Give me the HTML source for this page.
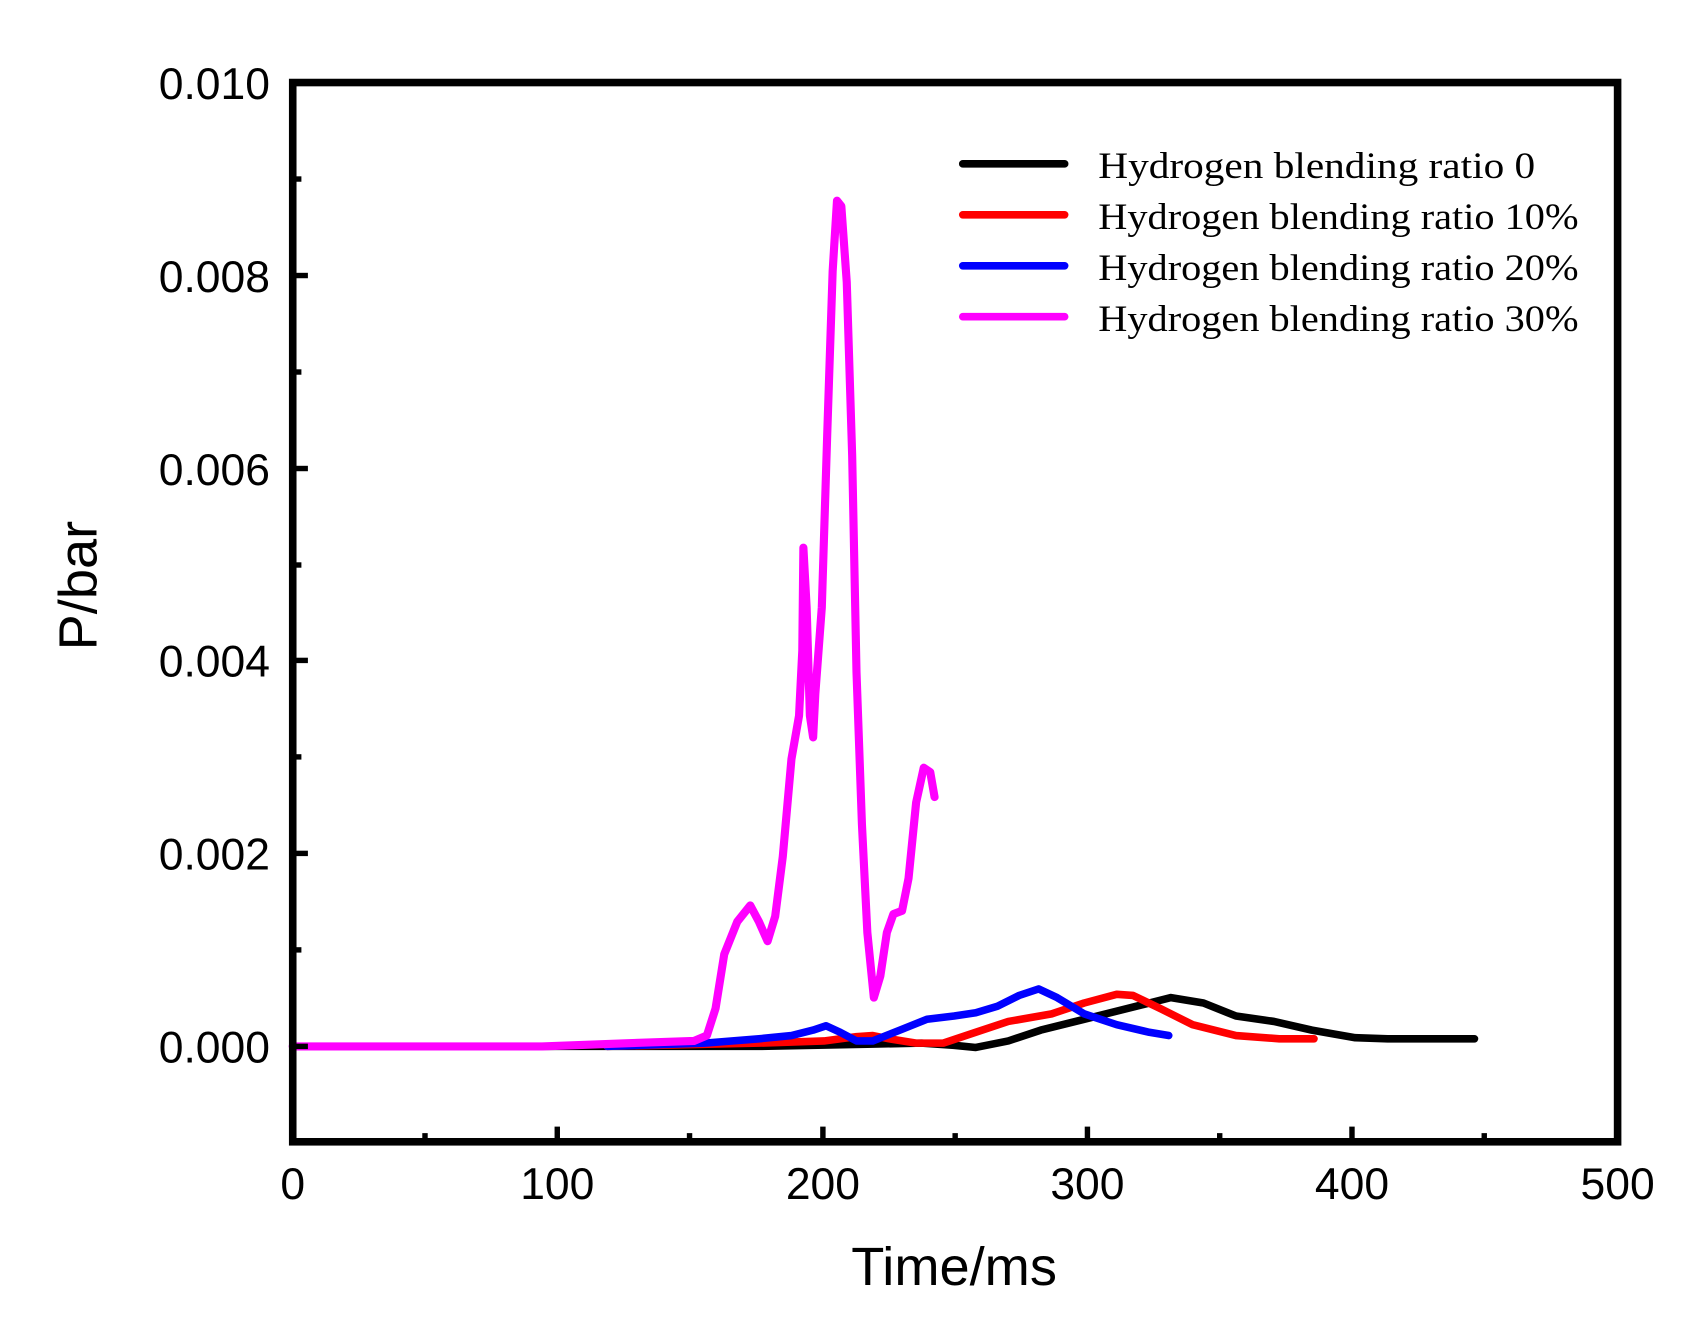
<!DOCTYPE html>
<html><head><style>html,body{margin:0;padding:0;background:#fff}svg{display:block}</style></head>
<body>
<svg width="1700" height="1336" viewBox="0 0 1568 1232" xmlns="http://www.w3.org/2000/svg" font-family="Liberation Sans, Arial, sans-serif">
<rect width="1568" height="1232" fill="#fff"/>
<g fill="none" stroke-linejoin="round" stroke-linecap="round" stroke-width="7">
<polyline stroke="#000" points="270,965 700,965 800,963 850,962 880,964 900,966 930,960 960,950 1000,940 1040,930 1060,925 1080,920 1110,925 1140,937 1175,942 1210,950 1250,957 1280,958 1360,958"/>
<polyline stroke="#ff0000" points="560,965 700,962 760,960 790,956 805,955 820,958 845,962 870,962 900,952 930,942 970,935 1000,925 1030,917 1045,918 1070,930 1100,945 1140,955 1180,958 1212,958"/>
<polyline stroke="#0000ff" points="560,965 650,962 700,958 730,955 750,950 762,946 775,952 790,960 805,960 830,950 855,940 880,937 900,934 920,928 940,918 958,912 975,920 1000,935 1030,945 1060,952 1078,955"/>
<polyline stroke="#ff00ff" stroke-width="7.5" points="270,965 500,965 580,962 640,960 652,955 660,930 668,880 680,850 692,835 700,850 708,868 715,845 722,790 730,700 737,660 740,600 741,505 744,560 747,660 750,680 752,640 758,560 763,400 768,250 772,185 776,190 781,260 786,420 790,620 795,760 800,860 806,920 812,900 818,860 824,843 832,840 838,810 845,740 852,708 858,712 862,735"/>
</g>
<rect x="270" y="76" width="1222" height="977" fill="none" stroke="#000" stroke-width="7"/>
<g stroke="#000" stroke-width="5">
<line x1="270" y1="965" x2="284" y2="965"/><line x1="270" y1="787" x2="284" y2="787"/><line x1="270" y1="609" x2="284" y2="609"/><line x1="270" y1="432" x2="284" y2="432"/><line x1="270" y1="254" x2="284" y2="254"/>
<line x1="270" y1="876" x2="278" y2="876"/><line x1="270" y1="698" x2="278" y2="698"/><line x1="270" y1="521" x2="278" y2="521"/><line x1="270" y1="343" x2="278" y2="343"/><line x1="270" y1="165" x2="278" y2="165"/>
<line x1="514" y1="1053" x2="514" y2="1039"/><line x1="759" y1="1053" x2="759" y2="1039"/><line x1="1003" y1="1053" x2="1003" y2="1039"/><line x1="1247" y1="1053" x2="1247" y2="1039"/>
<line x1="392" y1="1053" x2="392" y2="1045"/><line x1="636" y1="1053" x2="636" y2="1045"/><line x1="881" y1="1053" x2="881" y2="1045"/><line x1="1125" y1="1053" x2="1125" y2="1045"/><line x1="1369" y1="1053" x2="1369" y2="1045"/>
</g>
<g font-size="41" text-anchor="end" fill="#000">
<text x="249" y="980">0.000</text><text x="249" y="802">0.002</text><text x="249" y="624">0.004</text><text x="249" y="447">0.006</text><text x="249" y="269">0.008</text><text x="249" y="91">0.010</text>
</g>
<g font-size="41" text-anchor="middle" fill="#000">
<text x="270" y="1106">0</text><text x="514" y="1106">100</text><text x="759" y="1106">200</text><text x="1003" y="1106">300</text><text x="1247" y="1106">400</text><text x="1492" y="1106">500</text>
</g>
<text x="880" y="1185" font-size="50" text-anchor="middle">Time/ms</text>
<text transform="translate(89,540) rotate(-90)" font-size="50" text-anchor="middle">P/bar</text>
<g stroke-width="7" stroke-linecap="round">
<line x1="888" y1="151" x2="982" y2="151" stroke="#000"/>
<line x1="888" y1="198" x2="982" y2="198" stroke="#ff0000"/>
<line x1="888" y1="245" x2="982" y2="245" stroke="#0000ff"/>
<line x1="888" y1="292" x2="982" y2="292" stroke="#ff00ff"/>
</g>
<g font-family="Liberation Serif, Times New Roman, serif" font-size="34" fill="#000">
<text x="1013" y="164" textLength="403" lengthAdjust="spacingAndGlyphs">Hydrogen blending ratio 0</text>
<text x="1013" y="211" textLength="443" lengthAdjust="spacingAndGlyphs">Hydrogen blending ratio 10%</text>
<text x="1013" y="258" textLength="443" lengthAdjust="spacingAndGlyphs">Hydrogen blending ratio 20%</text>
<text x="1013" y="305" textLength="443" lengthAdjust="spacingAndGlyphs">Hydrogen blending ratio 30%</text>
</g>
</svg>
</body></html>
